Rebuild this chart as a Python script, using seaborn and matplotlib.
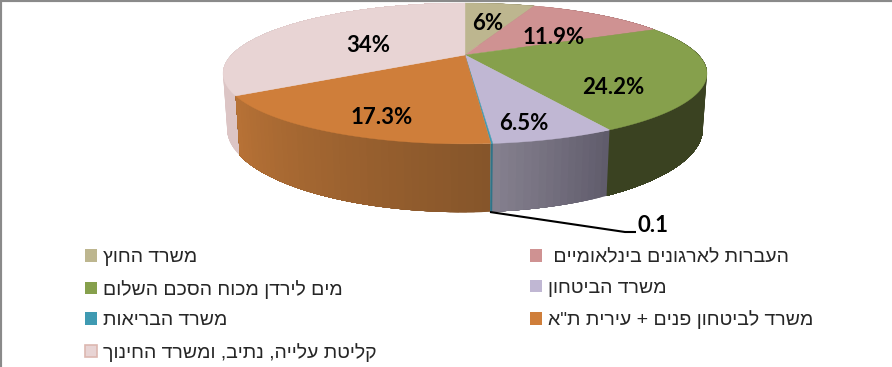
import numpy as np
import matplotlib
matplotlib.use("Agg")
import matplotlib.pyplot as plt
from matplotlib.patches import Patch
from matplotlib.colors import to_rgb
import seaborn as sns

# names in reading order, reversed later because matplotlib has no bidi
names = ["משרד החוץ", "העברות לארגונים בינלאומיים ", "מים לירדן מכוח הסכם השלום", "משרד הביטחון",
         "משרד הבריאות", 'משרד לביטחון פנים + עירית ת"א', "קליטת עלייה, נתיב, ומשרד החינוך"]
values = [6, 11.9, 24.2, 6.5, 0.1, 17.3, 34]
value_labels = ["6%", "11.9%", "24.2%", "6.5%", "0.1", "17.3%", "34%"]

top_colors = ["#BDB68F", "#CF9292", "#86A04C", "#C0B7D3", "#3F9AB2", "#CF7E3A", "#E8D4D4"]
wall_left = ["#8E8A6C", "#A07070", "#3A4221", "#86818F", "#2F7488", "#B87236", "#DCC5C5"]
wall_right = ["#8E8A6C", "#A07070", "#3A4221", "#5F5B6B", "#2F7488", "#85552A", "#DCC5C5"]
label_pos = [(488, 24), (554, 37), (613, 88), (524, 123), (653, 226), (382, 118), (368, 45)]

sns.set_theme(style="white")
plt.rcParams["font.family"] = ["Liberation Sans", "DejaVu Sans"]

# perspective of the disc, pixels around the point where the slices meet
cx, cy = 465, 55
R, A, K = 233.5, 65.6, 0.262
H, M = 53, 0.016


def project(theta, lower=False):
    u, v = np.sin(theta), np.cos(theta)
    if lower:
        w = 1 + K * v + M
        return cx + R * u / w, cy - (A * v - H) / w
    w = 1 + K * v
    return cx + R * u / w, cy - A * v / w


fig = plt.figure(figsize=(8.92, 3.67), dpi=100)
ax = fig.add_axes([0, 0, 1, 1])
ax.set_xlim(0, 892)
ax.set_ylim(367, 0)
ax.set_xticks([])
ax.set_yticks([])

edges = np.cumsum([0] + values) / sum(values) * 2 * np.pi
palette = sns.color_palette(top_colors)

# walls first, the far ones at the back
mids = (edges[:-1] + edges[1:]) / 2
for i in np.argsort(-np.cos(mids)):
    t1, t2 = edges[i], edges[i + 1]
    steps = max(2, int((t2 - t1) * 40))
    grid = np.linspace(t1, t2, steps + 1)
    c1 = np.array(to_rgb(wall_right[i]))
    c2 = np.array(to_rgb(wall_left[i]))
    # each strip runs on to the end of the slice, the next one paints over it, so no seams
    for j in range(steps):
        a = np.linspace(grid[j], t2, 40)
        xt, yt = project(a)
        xb, yb = project(a, lower=True)
        col = c1 + (c2 - c1) * (j + 0.5) / steps
        ax.fill(np.r_[xt, xb[::-1]], np.r_[yt, yb[::-1]], color=col, lw=0, zorder=2)

# top face
for i, val in enumerate(values):
    a = np.linspace(edges[i], edges[i + 1], 80)
    x, y = project(a)
    ax.fill(np.r_[cx, x], np.r_[cy, y], color=palette[i], lw=0.3, zorder=3)

# leader line for the tiny slice
ax.plot([490, 625, 636], [212, 232, 232], color="black", lw=1.5, zorder=4, solid_capstyle="butt")

for txt, (x, y) in zip(value_labels, label_pos):
    ax.text(x, y, txt, ha="center", va="center", fontsize=16, fontweight="bold",
            family="Lato", color="black", zorder=5)

# legend goes column by column, the picture reads row by row
order = [0, 2, 4, 6, 1, 3, 5]
handles = []
for i in order:
    if i == 6:
        handles.append(Patch(facecolor=top_colors[i], edgecolor="#DDB8B0", lw=1.2))
    else:
        handles.append(Patch(facecolor=top_colors[i], edgecolor="none"))
labels = [names[i][::-1] for i in order]
ax.legend(handles, labels, ncol=2, loc="upper left", bbox_to_anchor=(85 / 892, 1 - 249 / 367),
          frameon=False, fontsize=14, handlelength=0.62, handleheight=0.62, handletextpad=0.3,
          labelspacing=0.70, columnspacing=7.9, borderpad=0, borderaxespad=0)

for side in ["right", "bottom"]:
    ax.spines[side].set_visible(False)
for side in ["top", "left"]:
    ax.spines[side].set_color("#8A8A8A")
    ax.spines[side].set_linewidth(3)

fig.savefig("out.png", dpi=100)
